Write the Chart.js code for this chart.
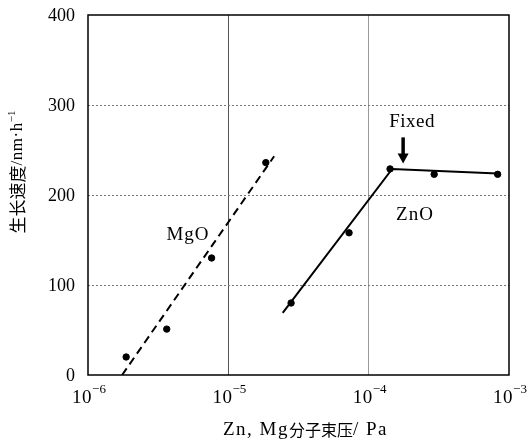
<!DOCTYPE html>
<html>
<head>
<meta charset="utf-8">
<script src="https://cdn.jsdelivr.net/npm/chart.js@4/dist/chart.umd.min.js"></script>
<style>
  body { margin: 0; background: #fff; }
  #wrap { width: 528px; height: 444px; }
</style>
</head>
<body>
<div id="wrap"><canvas id="chart" width="528" height="444"></canvas></div>
<script>
// MgO measured points and dashed fit
const mgoPressure = [1.87e-6, 3.64e-6, 7.6e-6, 1.85e-5];
const mgoRate = [20, 51, 130, 236];
const mgoFitPressure = [1.75e-6, 2.12e-5];
const mgoFitRate = [0, 243];

// ZnO measured points and solid fit
const znoPressure = [2.8e-5, 7.25e-5, 1.42e-4, 2.93e-4, 8.3e-4];
const znoRate = [80, 158, 229, 223, 223];
const znoFitPressure = [2.44e-5, 1.47e-4, 8.3e-4];
const znoFitRate = [69, 229, 224];

const xTicks = [1e-6, 1e-5, 1e-4, 1e-3];
const xTickExp = ['\u22126', '\u22125', '\u22124', '\u22123'];
const yTicks = [0, 100, 200, 300, 400];

const serif = '"Liberation Serif", "Times New Roman", serif';
const cjk = '"Noto Sans CJK SC", sans-serif';
const pts = (xs, ys) => xs.map((x, i) => ({ x, y: ys[i] }));

// draw a row of text pieces with their own fonts, centred on cx
function drawRuns(ctx, runs, cx, cy) {
    let total = 0;
    const widths = runs.map(([text, font, sp]) => {
        ctx.font = font;
        ctx.letterSpacing = (sp || 0) + 'px';
        const w = ctx.measureText(text).width;
        total += w;
        return w;
    });
    let x = cx - total / 2;
    ctx.textAlign = 'left';
    runs.forEach(([text, font, sp, dy], i) => {
        ctx.font = font;
        ctx.letterSpacing = (sp || 0) + 'px';
        ctx.fillText(text, x, cy + (dy || 0));
        x += widths[i];
    });
    ctx.letterSpacing = '0px';
}

const annotate = {
    id: 'annotate',
    afterDraw(chart) {
        const { ctx, chartArea: a, scales: { x, y } } = chart;
        ctx.save();
        ctx.fillStyle = '#000';
        ctx.strokeStyle = '#000';
        ctx.textBaseline = 'middle';

        drawRuns(ctx, [['MgO', '19px ' + serif, 1]], x.getPixelForValue(5.16e-6), y.getPixelForValue(155));
        drawRuns(ctx, [['ZnO', '19px ' + serif, 1]], x.getPixelForValue(2.14e-4), y.getPixelForValue(178));
        drawRuns(ctx, [['Fixed', '19px ' + serif, 0.5]], x.getPixelForValue(2.04e-4), y.getPixelForValue(281));

        // arrow
        const ax = x.getPixelForValue(1.76e-4);
        const ay0 = y.getPixelForValue(264), ay1 = y.getPixelForValue(235);
        ctx.lineWidth = 3.5;
        ctx.beginPath();
        ctx.moveTo(ax, ay0);
        ctx.lineTo(ax, ay1 - 8);
        ctx.stroke();
        ctx.beginPath();
        ctx.moveTo(ax - 5.5, ay1 - 10);
        ctx.lineTo(ax + 5.5, ay1 - 10);
        ctx.lineTo(ax, ay1);
        ctx.closePath();
        ctx.fill();

        // frame
        ctx.lineWidth = 1.5;
        ctx.strokeRect(a.left, a.top, a.right - a.left, a.bottom - a.top);

        // y tick labels
        ctx.font = '18px ' + serif;
        ctx.textAlign = 'right';
        yTicks.forEach(v => ctx.fillText(String(v), a.left - 13, y.getPixelForValue(v) + 1));

        // x tick labels: 10 with raised exponent
        xTicks.forEach((v, i) => {
            drawRuns(ctx, [['10', '19px ' + serif, 0.5], [xTickExp[i], '13px ' + serif, 0, -8]],
                x.getPixelForValue(v) + 1, 398);
        });

        // axis titles
        drawRuns(ctx, [
            ['Zn, Mg', '19px ' + serif, 1.5],
            ['\u5206\u5B50\u675F\u538B', '16px ' + cjk, 0],
            ['/ Pa', '19px ' + serif, 1.5]
        ], (a.left + a.right) / 2 + 7, 430);

        ctx.translate(18, 172);
        ctx.rotate(-Math.PI / 2);
        drawRuns(ctx, [
            ['\u751F\u957F\u901F\u5EA6', '17px ' + cjk, 0],
            ['/nm\u00B7h', '17px ' + serif, 0.5],
            ['\u22121', '11px ' + serif, 0, -6]
        ], 0, 0);
        ctx.restore();
    }
};

new Chart(document.getElementById('chart'), {
    type: 'scatter',
    data: {
        datasets: [{
            data: pts(mgoFitPressure, mgoFitRate),
            showLine: true,
            borderColor: '#000',
            borderWidth: 2,
            borderDash: [8, 5],
            pointRadius: 0
        }, {
            data: pts(znoFitPressure, znoFitRate),
            showLine: true,
            borderColor: '#000',
            borderWidth: 2,
            pointRadius: 0
        }, {
            data: pts(mgoPressure, mgoRate),
            backgroundColor: '#000',
            borderColor: '#000',
            pointRadius: 3.2
        }, {
            data: pts(znoPressure, znoRate),
            backgroundColor: '#000',
            borderColor: '#000',
            pointRadius: 3.2
        }]
    },
    options: {
        responsive: false,
        animation: false,
        layout: { padding: { top: 15, right: 19, left: 0, bottom: 0 } },
        plugins: { legend: { display: false }, tooltip: { enabled: false } },
        scales: {
            x: {
                type: 'logarithmic',
                min: 1e-6,
                max: 1e-3,
                afterBuildTicks: s => { s.ticks = xTicks.map(v => ({ value: v })); },
                afterFit: s => { s.height = 69; },
                ticks: { display: false },
                grid: {
                    drawTicks: false,
                    color: c => (c.index === 1 ? '#555' : c.index === 2 ? '#999' : 'transparent'),
                    lineWidth: 1
                },
                border: { display: false }
            },
            y: {
                min: 0,
                max: 400,
                afterBuildTicks: s => { s.ticks = yTicks.map(v => ({ value: v })); },
                afterFit: s => { s.width = 88; },
                ticks: { display: false },
                grid: {
                    drawTicks: false,
                    color: c => (c.index > 0 && c.index < yTicks.length - 1 ? '#777' : 'transparent'),
                    lineWidth: 1
                },
                border: { display: false, dash: [2, 2] }
            }
        }
    },
    plugins: [annotate]
});
</script>
</body>
</html>
